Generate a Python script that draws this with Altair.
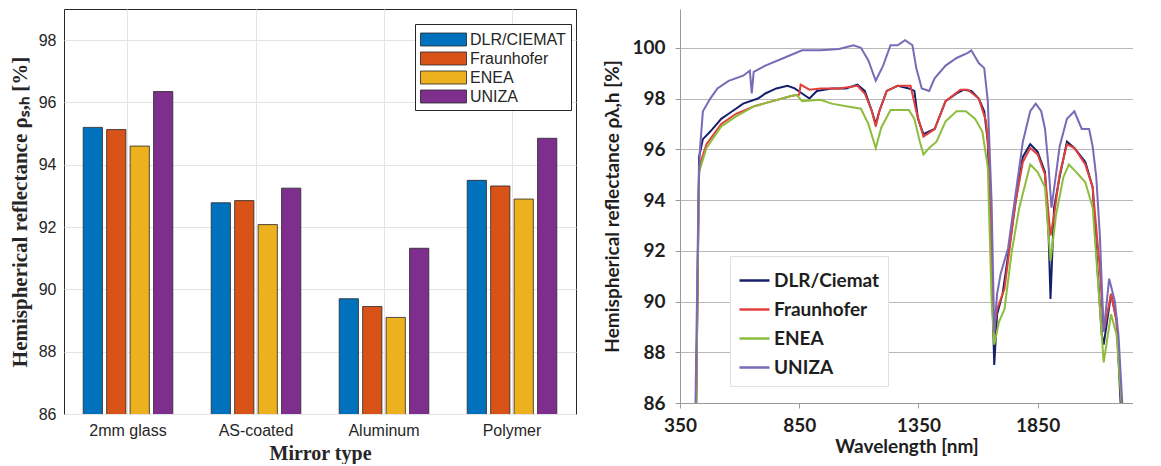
import altair as alt
import pandas as pd

# ---------------- Left panel: bar data ----------------
mirror_types = ["2mm glass", "AS-coated", "Aluminum", "Polymer"]
labs = ["DLR/CIEMAT", "Fraunhofer", "ENEA", "UNIZA"]
bar_colors = ["#0072BD", "#D95319", "#EDB120", "#7E2F8E"]
dlr_vals = [95.2, 92.78, 89.7, 93.5]
fhg_vals = [95.13, 92.85, 89.45, 93.32]
enea_vals = [94.6, 92.08, 89.1, 92.9]
uniza_vals = [96.35, 93.25, 91.32, 94.85]

# ---------------- Right panel: spectral data ----------------
series = ["DLR/Ciemat", "Fraunhofer", "ENEA", "UNIZA"]
line_colors = ["#16206a", "#e2403b", "#8dbd3c", "#7a69b6"]

uniza_wl = [415, 427, 433, 446, 477, 507, 554, 615, 643, 651, 659, 708, 785, 862, 939, 1017,
            1078, 1109, 1140, 1171, 1202, 1233, 1263, 1294, 1325, 1341, 1364, 1395, 1418, 1464,
            1510, 1557, 1572, 1603, 1626, 1641, 1657, 1668, 1680, 1695, 1726, 1757, 1788, 1819,
            1842, 1865, 1881, 1896, 1908, 1927, 1942, 1973, 2004, 2035, 2066, 2081, 2096, 2111,
            2127, 2150, 2174, 2189, 2205]
uniza_r = [86.0, 93.9, 95.9, 97.5, 98.0, 98.4, 98.7, 98.9, 99.1, 98.2, 99.05, 99.3, 99.6, 99.9,
           99.9, 99.95, 100.1, 100.0, 99.5, 98.7, 99.3, 100.1, 100.1, 100.3, 100.1, 99.2, 98.4,
           98.3, 98.8, 99.3, 99.6, 99.8, 99.9, 99.4, 99.2, 97.9, 93.9, 88.8, 90.3, 91.1, 92.1,
           94.2, 96.3, 97.5, 97.8, 97.5, 96.8, 95.3, 93.7, 95.0, 96.1, 97.2, 97.5, 96.8, 96.8,
           96.1, 94.9, 92.6, 88.8, 90.9, 90.0, 88.7, 86.0]

dlr_wl = [418, 430, 446, 477, 523, 554, 615, 677, 708, 754, 801, 831, 862, 893, 924, 986, 1047,
          1094, 1125, 1155, 1171, 1186, 1217, 1263, 1310, 1333, 1348, 1371, 1395, 1418, 1464,
          1510, 1541, 1572, 1603, 1626, 1641, 1657, 1668, 1680, 1703, 1726, 1757, 1788, 1819,
          1850, 1881, 1896, 1904, 1919, 1942, 1973, 2004, 2050, 2081, 2096, 2119, 2127, 2158,
          2181, 2198]
dlr_r = [86.0, 95.7, 96.4, 96.7, 97.2, 97.4, 97.8, 98.0, 98.2, 98.4, 98.5, 98.4, 98.2, 98.0,
         98.3, 98.4, 98.4, 98.55, 98.3, 97.5, 97.0, 97.5, 98.3, 98.5, 98.4, 98.3, 97.2, 96.6,
         96.7, 96.8, 97.9, 98.2, 98.35, 98.3, 98.0, 97.5, 96.3, 91.3, 87.5, 89.5, 90.3, 91.8,
         93.9, 95.7, 96.2, 95.9, 95.1, 92.6, 90.1, 93.7, 94.9, 96.3, 96.05, 95.5, 94.5, 92.0,
         88.7, 88.3, 90.3, 89.3, 86.0]

fhg_wl = [418, 430, 461, 523, 585, 662, 739, 816, 850, 856, 893, 939, 1017, 1094, 1125, 1155,
          1171, 1186, 1217, 1263, 1317, 1341, 1371, 1418, 1464, 1526, 1557, 1603, 1634, 1649,
          1665, 1680, 1711, 1757, 1788, 1819, 1850, 1881, 1904, 1919, 1942, 1973, 2004, 2050,
          2081, 2111, 2127, 2158, 2181, 2202]
fhg_r = [86.0, 95.3, 96.2, 97.0, 97.4, 97.7, 97.9, 98.1, 98.15, 98.55, 98.35, 98.4, 98.4, 98.5,
         98.2, 97.5, 96.9, 97.5, 98.3, 98.5, 98.5, 97.5, 96.5, 96.8, 97.9, 98.35, 98.35, 98.0,
         97.1, 95.3, 88.7, 89.7, 90.5, 93.9, 95.5, 96.05, 95.8, 95.0, 92.6, 93.4, 95.0, 96.2,
         96.05, 95.4, 94.5, 91.3, 88.8, 90.3, 89.2, 86.0]

enea_wl = [418, 424, 430, 461, 523, 585, 662, 739, 816, 839, 862, 939, 986, 1047, 1109, 1140,
           1171, 1194, 1233, 1310, 1333, 1356, 1371, 1395, 1426, 1464, 1510, 1549, 1588, 1618,
           1641, 1657, 1668, 1688, 1711, 1742, 1773, 1819, 1850, 1881, 1904, 1927, 1958, 1981,
           2012, 2050, 2081, 2104, 2127, 2158, 2181, 2202]
enea_r = [86.0, 91.3, 95.1, 96.05, 96.9, 97.3, 97.7, 97.9, 98.1, 98.15, 97.9, 97.95, 97.8, 97.7,
          97.6, 97.0, 96.05, 96.85, 97.55, 97.55, 97.2, 96.3, 95.8, 96.05, 96.3, 97.1, 97.5, 97.5,
          97.2, 96.7, 95.3, 90.0, 88.3, 89.2, 89.7, 92.0, 93.7, 95.4, 95.1, 94.5, 91.6, 93.4,
          94.9, 95.4, 95.1, 94.7, 93.7, 90.7, 87.6, 89.5, 88.7, 86.0]

# ---------------- Build tables ----------------
rows = []
for lab, vals in zip(labs, [dlr_vals, fhg_vals, enea_vals, uniza_vals]):
    for m, v in zip(mirror_types, vals):
        rows.append({"mirror": m, "lab": lab, "value": v})
bar_df = pd.DataFrame(rows)

lrows = []
for s, wl, r in zip(series, [dlr_wl, fhg_wl, enea_wl, uniza_wl], [dlr_r, fhg_r, enea_r, uniza_r]):
    for w, v in zip(wl, r):
        lrows.append({"series": s, "wl": w, "r": v})
line_df = pd.DataFrame(lrows)

SANS = "Liberation Sans"
SERIF = "Liberation Serif"
CAL = "Lato"

left = alt.Chart(bar_df).mark_bar(stroke="#262626", strokeWidth=0.8, clip=True).encode(
    x=alt.X("mirror:N", sort=mirror_types,
            scale=alt.Scale(paddingInner=0.3, paddingOuter=0.15),
            axis=alt.Axis(title="Mirror type", labelAngle=0, grid=True, bandPosition=0.5,
                          gridColor="#e4e4e4", ticks=False, domain=False,
                          labelFont=SANS, labelFontSize=16, labelColor="#262626", labelPadding=8,
                          titleFont=SERIF, titleFontSize=20, titleFontWeight="bold",
                          titleColor="#262626", titlePadding=5)),
    xOffset=alt.XOffset("lab:N", sort=labs, scale=alt.Scale(paddingInner=0.18)),
    y=alt.Y("value:Q", scale=alt.Scale(domain=[86, 99], nice=False, zero=False),
            axis=alt.Axis(title="Hemispherical reflectance ρₛ,ₕ [%]", values=[86, 88, 90, 92, 94, 96, 98],
                          grid=True, gridColor="#e4e4e4", ticks=False, domain=False,
                          labelFont=SANS, labelFontSize=16, labelColor="#262626", labelPadding=8,
                          titleFont=SERIF, titleFontSize=21, titleFontWeight="bold",
                          titleColor="#262626", titlePadding=8)),
    color=alt.Color("lab:N", sort=labs, scale=alt.Scale(domain=labs, range=bar_colors),
                    legend=alt.Legend(title=None, orient="none", legendX=351, legendY=15,
                                      fillColor="white", strokeColor="#262626", padding=5,
                                      symbolType="M-2.3,-0.65L2.3,-0.65L2.3,0.65L-2.3,0.65Z",
                                      symbolSize=400, symbolStrokeColor="#262626",
                                      symbolStrokeWidth=0.8, symbolOpacity=1,
                                      symbolOffset=13, labelOffset=16, rowPadding=0,
                                      labelFont=SANS, labelFontSize=16, labelColor="#262626")),
).properties(width=512, height=405, view=alt.ViewBackground(stroke="#262626", strokeWidth=1))

right = alt.Chart(line_df).mark_line(strokeWidth=2, clip=True).encode(
    x=alt.X("wl:Q", scale=alt.Scale(domain=[350, 2250], nice=False, zero=False),
            axis=alt.Axis(title="Wavelength [nm]", values=[350, 850, 1350, 1850], format="d",
                          grid=False,
                          labelFlush=False, domainColor="#9a9a9a", tickColor="#9a9a9a", tickSize=5,
                          labelFont=CAL, labelFontSize=19, labelFontWeight="bold", labelColor="#1e1e1e",
                          labelPadding=8, titleFont=CAL, titleFontSize=19, titleFontWeight="bold",
                          titleColor="#1e1e1e", titlePadding=2)),
    y=alt.Y("r:Q", scale=alt.Scale(domain=[86, 101.53], nice=False, zero=False),
            axis=alt.Axis(title="Hemispherical reflectance ρλ,h [%]",
                          values=[86, 88, 90, 92, 94, 96, 98, 100],
                          grid=True, gridColor="#b8b8b8", domainColor="#9a9a9a", tickColor="#9a9a9a",
                          tickSize=5, labelFont=CAL, labelFontSize=19, labelFontWeight="bold",
                          labelColor="#1e1e1e", labelPadding=10, titleFont=CAL, titleFontSize=19,
                          titleFontWeight="bold", titleColor="#1e1e1e", titlePadding=9)),
    color=alt.Color("series:N", sort=series, scale=alt.Scale(domain=series, range=line_colors),
                    legend=alt.Legend(title=None, orient="none", legendX=50, legendY=247,
                                      fillColor="white", strokeColor="#e0e0e0", padding=8,
                                      symbolType="stroke", symbolSize=900, symbolStrokeWidth=2.5,
                                      rowPadding=2, labelOffset=3,
                                      labelFont=CAL, labelFontSize=19, labelFontWeight="bold",
                                      labelColor="#1e1e1e")),
).properties(width=453, height=394, view=alt.ViewBackground(stroke=None))

chart = alt.hconcat(left, right, spacing=26).resolve_scale(color="independent").properties(
    padding=0, background="white"
)

chart.save("out.html", embed_options={"renderer": "svg", "actions": False})
